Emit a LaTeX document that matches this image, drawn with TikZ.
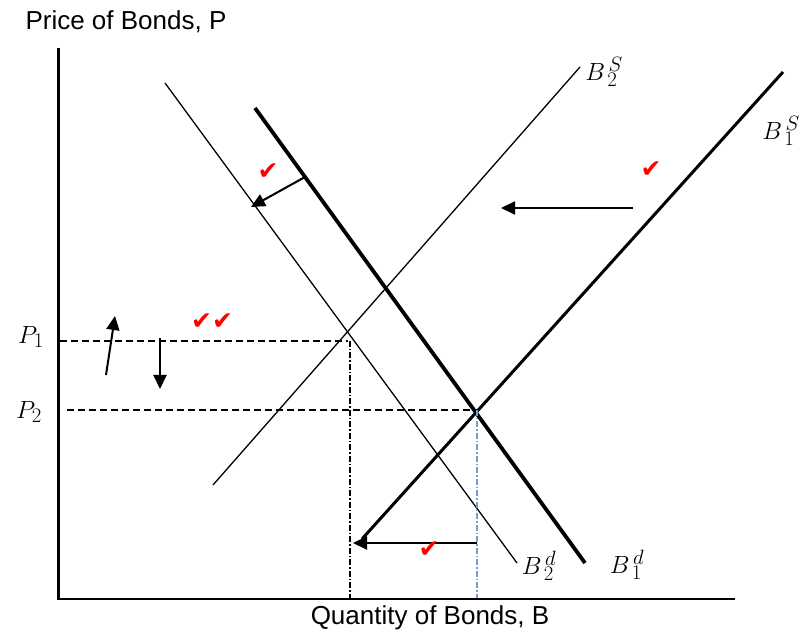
\documentclass[tikz,border=0pt]{standalone}
\usepackage{fontspec}
\setmainfont{Liberation Sans}
\newfontfamily\symfont{DejaVu Sans}
\usepackage{tikz}
\usetikzlibrary{arrows.meta}
\usepackage{xcolor}
\definecolor{checkred}{HTML}{FF0000}
\definecolor{guideblue}{HTML}{6F9FD2}
\tikzset{
  axisline/.style={
    line width=2.8pt, black
  },
  thinline/.style={
    line width=1.3pt, black
  },
  thickline/.style={
    line width=3.8pt, black
  },
  midline/.style={
    line width=3pt, black
  },
  pricedash/.style={
    line width=1.6pt, dash pattern=on 7pt off 4pt
  },
  qtydash/.style={
    line width=1.1pt, dash pattern=on 6pt off 2pt on 1.5pt off 2pt
  },
  shiftarr/.style={
    -{Triangle[length=14pt,width=13pt]}, line width=2pt
  },
  axislabel/.style={
    font=\fontsize{26}{30}\selectfont, inner sep=0pt
  },
  curvelabel/.style={
    font=\fontsize{29}{31}\selectfont, inner sep=0pt
  },
  checkmk/.style={
    font=\symfont\fontsize{25}{27}\selectfont, text=checkred, inner sep=0pt
  }
}

\begin{document}
\begin{tikzpicture}[x=1pt,y=1pt]
\useasboundingbox (0,0) rectangle (800,634);

% axes
\coordinate (origin) at (58.5,35);
\coordinate (ytop) at (58.5,586);
\coordinate (xend) at (735,35);
\draw[axisline] (ytop) -- (origin) -- (xend);
\node[axislabel] (ylab) at (126,612) {Price of Bonds, P};
\node[axislabel] (xlab) at (430,16) {Quantity of Bonds, B};

% supply and demand curves
\coordinate (s1top) at (783,562);
\coordinate (s1end) at (362,95);
\coordinate (s2top) at (580,567);
\coordinate (s2end) at (213,149);
\coordinate (d1top) at (255,526);
\coordinate (d1end) at (585,71);
\coordinate (d2top) at (165,551);
\coordinate (d2end) at (517,71);
\draw[midline] (s1top) -- (s1end);
\draw[thinline] (s2top) -- (s2end);
\draw[thickline] (d1top) -- (d1end);
\draw[thinline] (d2top) -- (d2end);

\node[curvelabel] (s2lab) at (604,562) {$B^{\,S}_{\,2}$};
\node[curvelabel, anchor=east] (s1lab) at (800,503) {$B^{\,S}_{\,1}$};
\node[curvelabel] (d2lab) at (539,68) {$B^{\,d}_{\,2}$};
\node[curvelabel] (d1lab) at (627,69) {$B^{\,d}_{\,1}$};

% equilibrium guides
\coordinate (eqone) at (348,293);
\coordinate (eqtwo) at (477,224);
\draw[pricedash] (60,293) -- (eqone);
\draw[pricedash] (67,224) -- (eqtwo);
\draw[qtydash] (350,293) -- (350,36);
\draw[qtydash, guideblue] (eqtwo) -- (477,36);
\node[curvelabel] (pone) at (31,297) {$P_1$};
\node[curvelabel] (ptwo) at (29,222) {$P_2$};

% shifts
\draw[shiftarr] (106,259) -- (115,318);
\draw[shiftarr] (160,296) -- (160,245);
\draw[shiftarr] (305,457) -- (251,427);
\draw[shiftarr] (633,426) -- (501,426);
\draw[shiftarr] (477,91) -- (353,91);

% marks
\node[checkmk] (ckone) at (268,462) {✔};
\node[checkmk] (cktwo) at (651,464) {✔};
\node[checkmk] (ckthree) at (212,312) {✔✔};
\node[checkmk] (ckfour) at (429,84) {✔};
\end{tikzpicture}
\end{document}
